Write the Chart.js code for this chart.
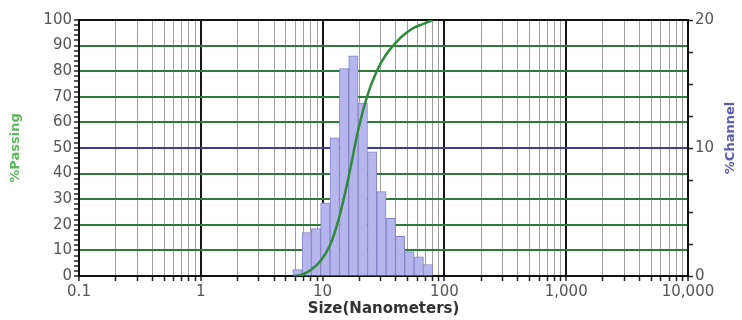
<!DOCTYPE html>
<html><head><meta charset="utf-8">
<script src="https://cdn.jsdelivr.net/npm/chart.js@4.4.1/dist/chart.umd.min.js"></script>
<style>html,body{margin:0;padding:0;background:#fff}#wrap{width:742px;height:320px;position:relative}</style>
</head><body><div id="wrap"><canvas id="c"></canvas></div>
<script>
// Histogram (%Channel) — bin centre sizes (nm) and heights
const binCenters = [6.21, 7.41, 8.84, 10.5, 12.6, 15.0, 17.9, 21.4, 25.5, 30.4, 36.3, 43.3, 51.6, 61.6, 73.5];
const channelPct = [0.5, 3.4, 3.7, 5.7, 10.8, 16.2, 17.2, 13.5, 9.7, 6.6, 4.5, 3.1, 1.9, 1.5, 0.9];
// Cumulative curve (%Passing) — sizes (nm) and values
const curveSizes = [5.68, 6.78, 8.09, 9.65, 11.5, 13.7, 16.4, 19.6, 23.3, 27.8, 33.2, 39.6, 47.3, 56.4, 67.3, 80.4];
const passingPct = [0, 0.5, 2.5, 6, 12, 23, 39, 57, 70.5, 80, 86.5, 91, 94.5, 97, 98.5, 100];
// X axis decades and their labels
const xTickValues = [0.1, 1, 10, 100, 1000, 10000];
const xTickLabels = ['0.1', '1', '10', '100', '1,000', '10,000'];
const rightTickLabels = ['0', '10', '20'];

const isDecade = v => Math.abs(Math.log10(v) - Math.round(Math.log10(v))) < 1e-6;
const decadeLabel = v => { const i = xTickValues.findIndex(d => Math.abs(Math.log10(d) - Math.log10(v)) < 1e-6); return i >= 0 ? xTickLabels[i] : ''; };

const framePlugin = {
  id: 'frame',
  beforeDatasetsDraw(chart) {
    const {ctx, chartArea: a} = chart;
    ctx.save(); ctx.strokeStyle = '#111'; ctx.lineWidth = 2;
    ctx.beginPath(); ctx.moveTo(a.left, a.top); ctx.lineTo(a.right, a.top); ctx.stroke();
    ctx.restore();
  },
  afterDraw(chart) {
    const {ctx, chartArea: a} = chart;
    ctx.save();
    ctx.translate(731, (a.top + a.bottom) / 2 - 10);
    ctx.rotate(-Math.PI / 2);
    ctx.font = 'bold 13px "DejaVu Sans"';
    ctx.fillStyle = '#5b5bab';
    ctx.textAlign = 'center'; ctx.textBaseline = 'middle';
    ctx.fillText('%Channel', 0, 0);
    ctx.restore();
  }
};

Chart.defaults.font.family = '"DejaVu Sans", sans-serif';

new Chart(document.getElementById('c'), {
  type: 'bar',
  data: {
    datasets: [
      {
        type: 'line', order: 0, yAxisID: 'y',
        data: curveSizes.map((s, i) => ({x: s, y: passingPct[i]})),
        borderColor: '#2f8a3c', borderWidth: 2.5, pointRadius: 0,
        cubicInterpolationMode: 'monotone', fill: false
      },
      {
        type: 'bar', order: 1, yAxisID: 'y2',
        data: binCenters.map((c, i) => ({x: c, y: channelPct[i]})),
        backgroundColor: '#b6b6ee', borderColor: '#8585c8', borderWidth: 1,
        barThickness: 'flex', barPercentage: 1, categoryPercentage: 1
      }
    ]
  },
  options: {
    responsive: true, maintainAspectRatio: false, animation: false,
    layout: {padding: {top: 20, left: 0, right: 0, bottom: 0}},
    plugins: {legend: {display: false}, tooltip: {enabled: false}},
    scales: {
      x: {
        type: 'logarithmic', position: 'bottom', min: 0.1, max: 10000,
        offset: false,
        afterBuildTicks(scale) {
          const t = [];
          for (let k = 0; k < xTickValues.length - 1; k++) for (let m = 1; m <= 9; m++) t.push({value: xTickValues[k] * m});
          t.push({value: xTickValues[xTickValues.length - 1]});
          scale.ticks = t;
        },
        afterFit(scale) { scale.height = 44; },
        grid: {
          offset: false,
          color: c => c.tick && isDecade(c.tick.value) ? '#151515' : '#a0a0a0',
          lineWidth: c => c.tick && isDecade(c.tick.value) ? 2 : 1,
          tickColor: '#222', tickLength: 5, tickWidth: 1.5
        },
        border: {display: true, color: '#111', width: 2},
        ticks: {
          autoSkip: false, maxRotation: 0, padding: 2,
          color: '#555', font: {size: 15},
          callback: v => decadeLabel(v)
        },
        title: {display: true, text: 'Size(Nanometers)', color: '#333', font: {size: 15, weight: 'bold'}, padding: {top: 0, bottom: 2}}
      },
      y: {
        type: 'linear', position: 'left', min: 0, max: 100,
        afterFit(scale) { scale.width = 79; },
        ticks: {stepSize: 2, autoSkip: false, color: '#555', font: {size: 15}, padding: 2,
          callback: v => (v % 10 === 0 ? String(v) : '')},
        grid: {
          color: c => { const v = c.tick ? c.tick.value : -1; if (v === 50) return '#3d3d98'; if (v % 10 === 0 && v > 0 && v < 100) return '#2e7a3a'; return 'rgba(0,0,0,0)'; },
          lineWidth: 2, tickColor: '#222', tickWidth: 1.5,
          tickLength: 5
        },
        border: {display: true, color: '#111', width: 2},
        title: {display: true, text: '%Passing', color: '#5cb85c', font: {size: 13, weight: 'bold'}, padding: {top: 8, bottom: 0}}
      },
      y2: {
        type: 'linear', position: 'right', min: 0, max: 20,
        afterFit(scale) { scale.width = 54; },
        ticks: {stepSize: 2.5, autoSkip: false, color: '#555', font: {size: 15}, padding: 2,
          callback: v => (v % 10 === 0 ? rightTickLabels[v / 10] : '')},
        grid: {drawOnChartArea: false, tickColor: '#222', tickLength: 5, tickWidth: 1.5},
        border: {display: true, color: '#111', width: 2}
      }
    }
  },
  plugins: [framePlugin]
});
</script></body></html>
